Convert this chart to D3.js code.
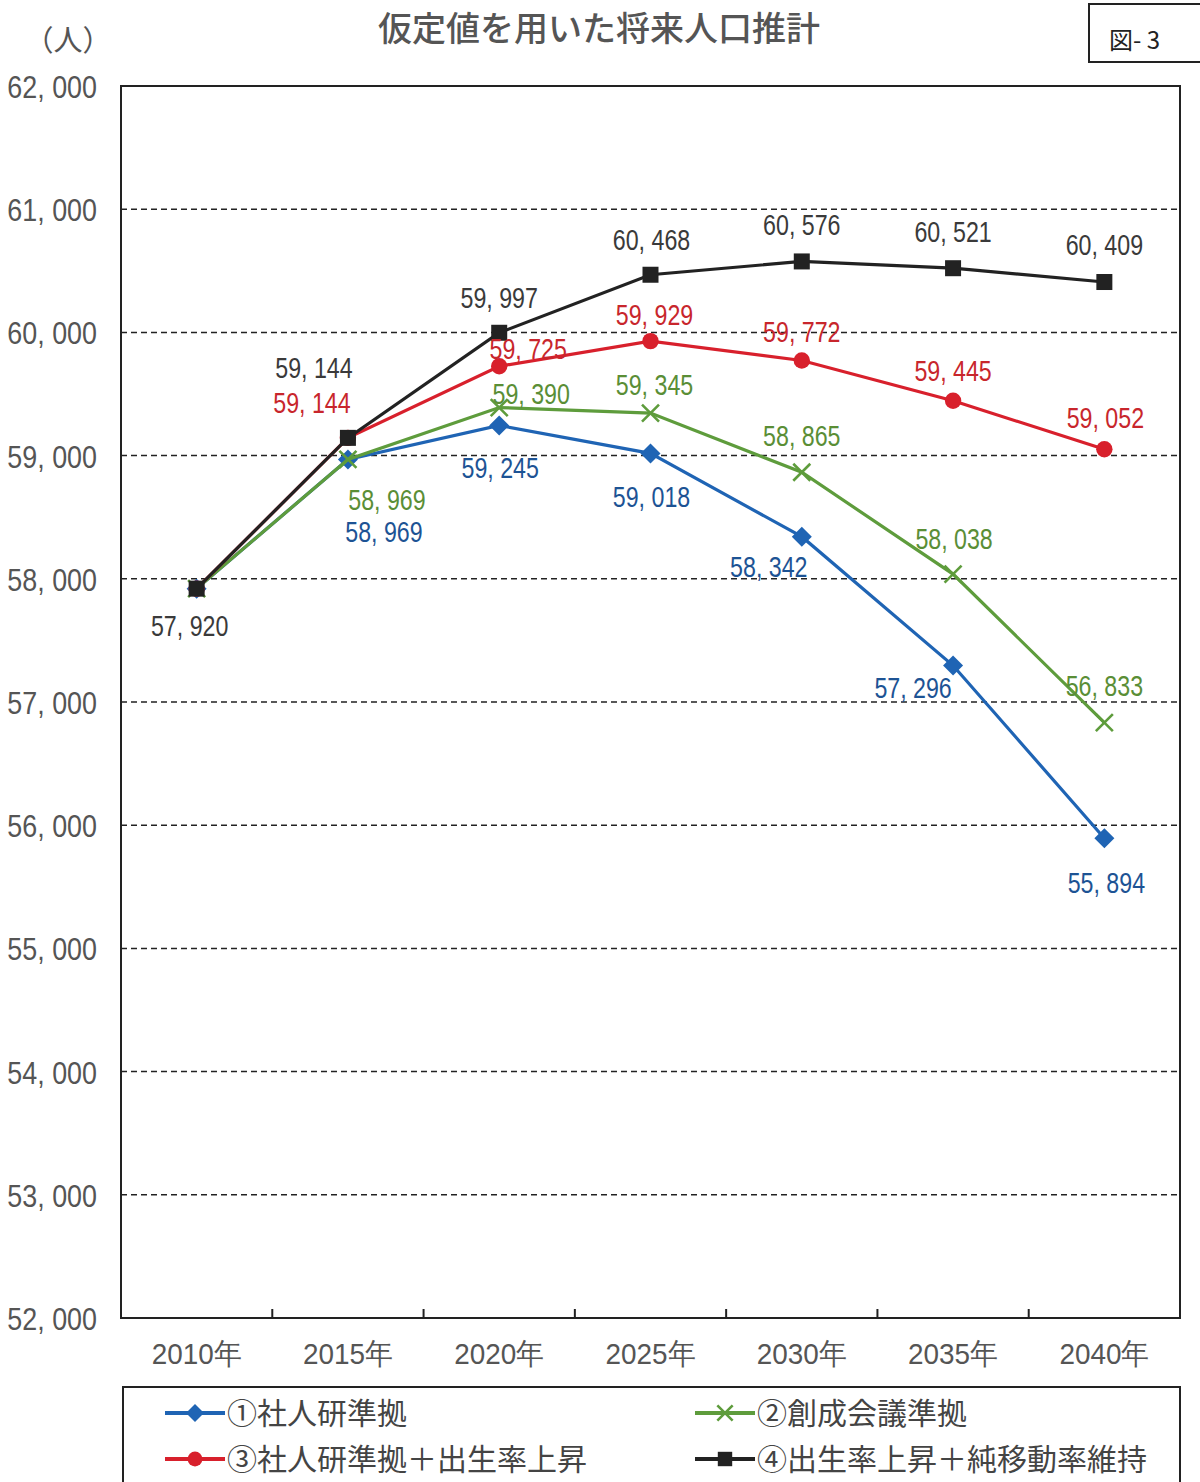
<!DOCTYPE html>
<html>
<head>
<meta charset="utf-8">
<script src="https://cdn.jsdelivr.net/npm/d3@7"></script>
<style>
  html, body { margin: 0; padding: 0; background: #fff; }
  svg { display: block; }
  .num { font-family: "Liberation Sans", "Noto Sans", sans-serif; }
  .jp { font-family: "Noto Sans CJK JP", "Noto Sans", sans-serif; }
</style>
</head>
<body>
<svg id="chart" width="1200" height="1482"></svg>
<script>
// Population projection (persons) by scenario
const years = ["2010年", "2015年", "2020年", "2025年", "2030年", "2035年", "2040年"];
const yTicks = [52000, 53000, 54000, 55000, 56000, 57000, 58000, 59000, 60000, 61000, 62000];

const seriesNames = ["①社人研準拠", "②創成会議準拠", "③社人研準拠＋出生率上昇", "④出生率上昇＋純移動率維持"];
const s1 = [57920, 58969, 59245, 59018, 58342, 57296, 55894];
const s2 = [57920, 58969, 59390, 59345, 58865, 58038, 56833];
const s3 = [57920, 59144, 59725, 59929, 59772, 59445, 59052];
const s4 = [57920, 59144, 59997, 60468, 60576, 60521, 60409];

// Label placement (dx, dy from the point; null = no label)
const off1 = [null, [36, 72], [1, 42], [1, 43], [-33, 30], [-40, 22], [2, 44]];
const off2 = [null, [39, 40], [32, -14], [4, -29], [0, -37], [1, -36], [0, -37]];
const off3 = [null, [-36, -35], [29, -18], [4, -27], [0, -29], [0, -30], [1, -32]];
const off4 = [[-7, 37], [-34, -70], [0, -35], [1, -35], [0, -37], [0, -37], [0, -37]];

const series = [
  { name: seriesNames[0], values: s1, offs: off1, line: "#1f64b4", text: "#1d5394", marker: "diamond" },
  { name: seriesNames[1], values: s2, offs: off2, line: "#5e9c3c", text: "#5a8e36", marker: "cross" },
  { name: seriesNames[2], values: s3, offs: off3, line: "#d8202c", text: "#c8262c", marker: "circle" },
  { name: seriesNames[3], values: s4, offs: off4, line: "#222222", text: "#3a3a3a", marker: "square" }
];

const svg = d3.select("#chart");
const plot = { left: 121, right: 1180, top: 86, bottom: 1318 };

const x = d3.scaleBand().domain(years).range([plot.left, plot.right]);
const y = d3.scaleLinear().domain([52000, 62000]).range([plot.bottom, plot.top]);
const fmt = v => d3.format(",")(v).replace(",", ", ");
const cx = i => x(years[i]) + x.bandwidth() / 2;

// Title, unit and figure number
svg.append("text").attr("class", "jp").attr("x", 599).attr("y", 41)
  .attr("text-anchor", "middle").attr("font-size", 34).attr("font-weight", 500).attr("fill", "#555")
  .text("仮定値を用いた将来人口推計");
svg.append("text").attr("class", "jp").attr("x", 68).attr("y", 51)
  .attr("text-anchor", "middle").attr("font-size", 29).attr("fill", "#555")
  .text("（人）");
svg.append("rect").attr("x", 1089).attr("y", 4).attr("width", 120).attr("height", 58)
  .attr("fill", "none").attr("stroke", "#222").attr("stroke-width", 2);
svg.append("text").attr("class", "jp").attr("x", 1109).attr("y", 49)
  .attr("font-size", 24).attr("fill", "#222").text("図- 3");

// Gridlines
svg.append("g").selectAll("line")
  .data(yTicks.filter(t => t > 52000 && t < 62000))
  .join("line")
  .attr("x1", plot.left).attr("x2", plot.right)
  .attr("y1", d => y(d)).attr("y2", d => y(d))
  .attr("stroke", "#222").attr("stroke-width", 1.5).attr("stroke-dasharray", "6,4");

// Plot frame
svg.append("rect").attr("x", plot.left).attr("y", plot.top)
  .attr("width", plot.right - plot.left).attr("height", plot.bottom - plot.top)
  .attr("fill", "none").attr("stroke", "#222").attr("stroke-width", 2);

// Y axis labels (condensed)
const yAxis = d3.axisLeft(y).tickValues(yTicks).tickSize(0).tickFormat(fmt);
const gy = svg.append("g").attr("transform", `translate(${plot.left},0)`).call(yAxis);
gy.select(".domain").remove();
gy.selectAll("text").attr("class", "num").attr("font-family", null)
  .attr("font-size", 32).attr("fill", "#555")
  .attr("x", 0).attr("dy", "0.36em")
  .attr("transform", "translate(-24,0) scale(0.84,1)");

// X axis: category labels (condensed) and ticks at band boundaries
const xAxis = d3.axisBottom(x).tickSize(0).tickPadding(25);
const gx = svg.append("g").attr("transform", `translate(0,${plot.bottom})`).call(xAxis);
gx.select(".domain").remove();
gx.selectAll("text").attr("class", "num").attr("font-family", null)
  .attr("font-size", 30).attr("fill", "#555")
  .attr("transform", "scale(0.93,1)");
svg.append("g").selectAll("line")
  .data(years.slice(1))
  .join("line")
  .attr("x1", d => x(d)).attr("x2", d => x(d))
  .attr("y1", plot.bottom).attr("y2", plot.bottom - 9)
  .attr("stroke", "#222").attr("stroke-width", 2);

// Marker drawing
function drawMarker(g, type, color, px, py, sz) {
  const h = sz / 2;
  if (type === "diamond") {
    g.append("path").attr("d", `M${px},${py - h}L${px + h},${py}L${px},${py + h}L${px - h},${py}Z`)
      .attr("fill", color);
  } else if (type === "circle") {
    g.append("circle").attr("cx", px).attr("cy", py).attr("r", h * 0.82).attr("fill", color);
  } else if (type === "square") {
    const s = h * 0.8;
    g.append("rect").attr("x", px - s).attr("y", py - s)
      .attr("width", 2 * s).attr("height", 2 * s).attr("fill", color);
  } else if (type === "cross") {
    const c = h * 0.85;
    g.append("path").attr("d", `M${px - c},${py - c}L${px + c},${py + c}M${px - c},${py + c}L${px + c},${py - c}`)
      .attr("stroke", color).attr("stroke-width", 2.6).attr("fill", "none");
  }
}

const line = d3.line().x((d, i) => cx(i)).y(d => y(d));

// Lines and markers (black series drawn last, on top)
series.forEach(s => {
  const g = svg.append("g");
  g.append("path").datum(s.values).attr("d", line)
    .attr("fill", "none").attr("stroke", s.line).attr("stroke-width", 3.2);
  s.values.forEach((v, i) => drawMarker(g, s.marker, s.line, cx(i), y(v), 20));
});

// Value labels (condensed numerals)
series.forEach(s => {
  s.values.forEach((v, i) => {
    const o = s.offs[i];
    if (!o) return;
    svg.append("text").attr("class", "num")
      .attr("transform", `translate(${cx(i) + o[0]},${y(v) + o[1]}) scale(0.8,1)`)
      .attr("text-anchor", "middle").attr("dy", "0.36em")
      .attr("font-size", 29).attr("fill", s.text)
      .text(fmt(v));
  });
});

// Legend
const lg = svg.append("g");
lg.append("rect").attr("x", 123).attr("y", 1387).attr("width", 1057).attr("height", 110)
  .attr("fill", "none").attr("stroke", "#222").attr("stroke-width", 2);
const legendPos = [[165, 1413], [695, 1413], [165, 1459], [695, 1459]];
series.forEach((s, i) => {
  const [lx, ly] = legendPos[i];
  lg.append("line").attr("x1", lx).attr("x2", lx + 60).attr("y1", ly).attr("y2", ly)
    .attr("stroke", s.line).attr("stroke-width", 4);
  drawMarker(lg, s.marker, s.line, lx + 30, ly, 18);
  lg.append("text").attr("class", "jp").attr("x", lx + 62).attr("y", ly)
    .attr("dy", "0.36em").attr("font-size", 30).attr("fill", "#444")
    .text(s.name);
});
</script>
</body>
</html>
